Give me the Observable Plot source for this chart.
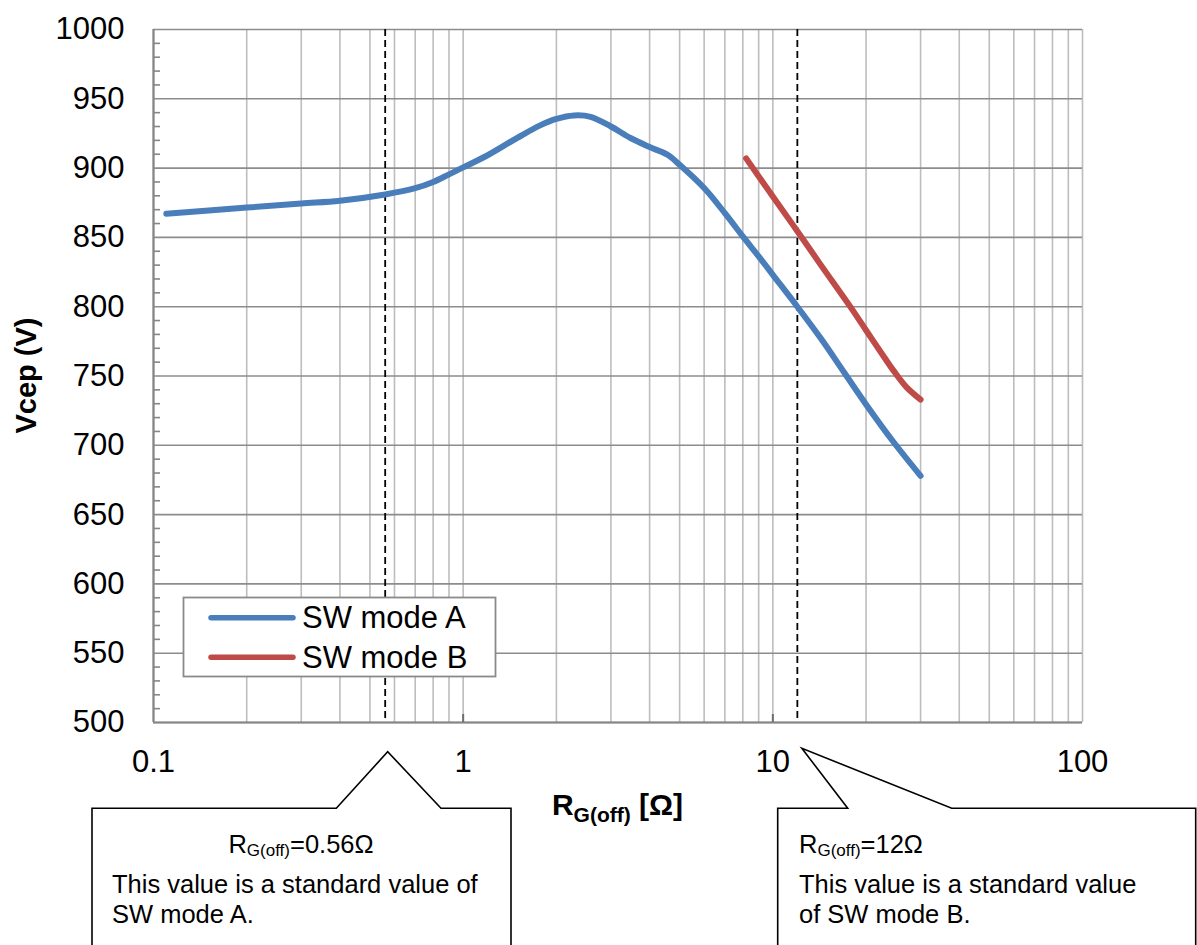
<!DOCTYPE html>
<html>
<head>
<meta charset="utf-8">
<script src="https://cdn.jsdelivr.net/npm/d3@7"></script>
<script src="https://cdn.jsdelivr.net/npm/@observablehq/plot@0.6"></script>
<style>
  html, body { margin: 0; padding: 0; background: #fff; }
  #chart svg { display: block; }
</style>
</head>
<body>
<div id="chart"></div>
<script>
// ---- data ----
const seriesNames = ["SW mode A", "SW mode B"];
const seriesColors = ["#4a7ebb", "#be4b48"];

const rgA = [0.11, 0.2, 0.3, 0.4, 0.56, 0.7, 0.8, 0.9, 1, 1.17, 1.5, 1.78, 2, 2.28, 2.58, 3, 3.47, 4, 4.57, 5, 6, 7, 8, 9, 10, 12, 14.3, 17, 20, 24.6, 30];
const vA  = [867, 871.5, 874.5, 876.5, 881, 885.5, 890, 895.5, 900.5, 908, 922, 931, 935.5, 938, 937, 930, 921.7, 915.2, 909.6, 902.4, 885.6, 867.5, 850.7, 836.3, 823, 800, 777, 752.5, 729.5, 702, 678];

const rgB = [8.2, 10, 12, 14.3, 17.85, 20, 22.9, 24.6, 27, 30];
const vB  = [907, 879.5, 854.5, 830, 799.5, 783, 763.5, 753.5, 742, 733];

const xTickValues = [0.1, 1, 10, 100];
const yTickValues = [500, 550, 600, 650, 700, 750, 800, 850, 900, 950, 1000];
const standardRg = [0.56, 12];
const calloutValues = ["=0.56\u03A9", "=12\u03A9"];
const calloutLines = [
  ["This value is a standard value of", "SW mode A."],
  ["This value is a standard value", "of SW mode B."]
];
const yTitle = "Vcep (V)";
const xTitleMain = "R", xTitleSub = "G(off)", xTitleRest = " [\u03A9]";

// ---- derived tables ----
const data = [
  ...rgA.map((r, i) => ({series: seriesNames[0], rg: r, v: vA[i]})),
  ...rgB.map((r, i) => ({series: seriesNames[1], rg: r, v: vB[i]}))
];
const xGrid = [-1, 0, 1].flatMap(e => d3.range(1, 10).map(m => +(m * Math.pow(10, e)).toPrecision(6))).concat([100]);
const yMinor = d3.range(500, 1001, 10).filter(v => v % 50 !== 0);

const FONT = "'Liberation Sans', Arial, Helvetica, sans-serif";

const plot = Plot.plot({
  width: 1197,
  height: 945,
  marginLeft: 153,
  marginRight: 115,
  marginTop: 29,
  marginBottom: 223,
  style: {fontFamily: FONT, fontSize: "31px", color: "#000", background: "#fff", overflow: "visible"},
  x: {type: "log", domain: [0.1, 100]},
  y: {domain: [500, 1000]},
  color: {domain: seriesNames, range: seriesColors},
  marks: [
    Plot.gridX(xGrid, {stroke: "#bdbdbd", strokeOpacity: 1, strokeWidth: 1.6}),
    Plot.gridY(yTickValues, {stroke: "#8c8c8c", strokeOpacity: 1, strokeWidth: 1.6}),
    Plot.ruleX([0.1], {stroke: "#868686", strokeWidth: 2.2}),
    Plot.ruleY([500], {stroke: "#868686", strokeWidth: 2.2}),
    Plot.axisY(yMinor, {tickSize: -7, tickFormat: () => "", label: null, stroke: "#868686", strokeWidth: 1.6}),
    Plot.axisY(yTickValues, {tickSize: 0, tickPadding: 29, fontSize: 31, label: null, tickFormat: d => String(d)}),
    Plot.axisX([1, 10], {tickSize: -8, tickFormat: () => "", label: null, stroke: "#6e6e6e", strokeWidth: 2}),
    Plot.axisX(xTickValues, {tickSize: 0, tickPadding: 27, fontSize: 31, label: null, tickFormat: d => String(d)}),
    Plot.ruleX(standardRg, {stroke: "#000", strokeWidth: 1.8, strokeDasharray: "7,4"}),
    Plot.line(data, {x: "rg", y: "v", z: "series", stroke: "series", strokeWidth: 6, curve: "catmull-rom", strokeLinecap: "round", strokeLinejoin: "round"})
  ]
});

document.getElementById("chart").appendChild(plot);

const svg = d3.select(plot);
const xs = plot.scale("x");
const ys = plot.scale("y");
const yMid = (ys.apply(500) + ys.apply(1000)) / 2;
const xMid = (xs.apply(0.1) + xs.apply(100)) / 2;

// y title
svg.append("text")
  .attr("transform", `translate(36,${yMid}) rotate(-90)`)
  .attr("text-anchor", "middle")
  .attr("font-family", FONT).attr("font-weight", "bold").attr("font-size", 29)
  .text(yTitle);

// x title with subscript
const xt = svg.append("text")
  .attr("x", xMid).attr("y", 815)
  .attr("text-anchor", "middle")
  .attr("font-family", FONT).attr("font-weight", "bold").attr("font-size", 30);
xt.append("tspan").text(xTitleMain);
xt.append("tspan").attr("font-size", 21).attr("dy", 7).text(xTitleSub);
xt.append("tspan").attr("dy", -7).text(xTitleRest);

// legend
const lg = svg.append("g");
lg.append("rect").attr("x", 183.5).attr("y", 597.5).attr("width", 312).attr("height", 79)
  .attr("fill", "#fff").attr("stroke", "#8a8a8a").attr("stroke-width", 1.8);
seriesNames.forEach((name, i) => {
  const yy = 617.7 + i * 39.6;
  lg.append("line").attr("x1", 211).attr("x2", 293).attr("y1", yy).attr("y2", yy)
    .attr("stroke", seriesColors[i]).attr("stroke-width", 5.5).attr("stroke-linecap", "round");
  lg.append("text").attr("x", 302).attr("y", yy + 10.5).attr("text-anchor", "start")
    .attr("font-family", FONT).attr("font-size", 31).attr("fill", "#000").text(name);
});

// callouts
const boxes = [
  {left: 92, right: 511, b1: 336.3, b2: 441, apexDx: 3, apexY: 751.7, titleX: 301, titleAnchor: "middle", textX: 112},
  {left: 777.7, right: 1195.7, b1: 847.7, b2: 951.7, apexDx: 5, apexY: 748.3, titleX: 799, titleAnchor: "start", textX: 799}
];
const boxTop = 808.3;
boxes.forEach((b, i) => {
  const ax = xs.apply(standardRg[i]) + b.apexDx;
  const path = `M${b.left},960 L${b.left},${boxTop} L${b.b1},${boxTop} L${ax},${b.apexY} L${b.b2},${boxTop} L${b.right},${boxTop} L${b.right},960`;
  svg.append("path").attr("d", path).attr("fill", "#fff").attr("stroke", "#000").attr("stroke-width", 1.6);
  const t = svg.append("text").attr("x", b.titleX).attr("y", 853.3).attr("text-anchor", b.titleAnchor)
    .attr("font-family", FONT).attr("font-size", 25.5).attr("fill", "#000");
  t.append("tspan").text("R");
  t.append("tspan").attr("font-size", 17).attr("dy", 3).text("G(off)");
  t.append("tspan").attr("dy", -3).text(calloutValues[i]);
  calloutLines[i].forEach((ln, j) => {
    svg.append("text").attr("x", b.textX).attr("y", 892.7 + j * 30.6).attr("text-anchor", "start")
      .attr("font-family", FONT).attr("font-size", 25.5).attr("fill", "#000").text(ln);
  });
});
</script>
</body>
</html>
